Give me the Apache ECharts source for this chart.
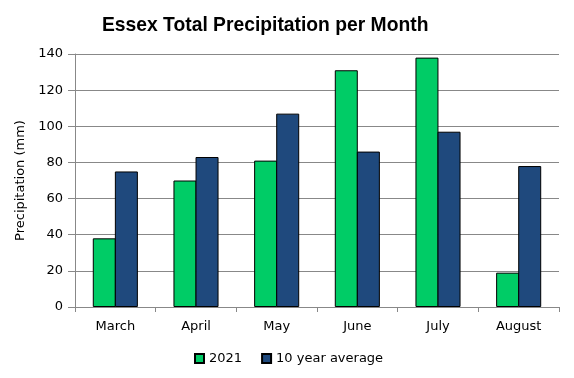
<!DOCTYPE html>
<html><head><meta charset="utf-8">
<script src="https://cdn.jsdelivr.net/npm/echarts@6/dist/echarts.min.js"></script>
<style>html,body{margin:0;padding:0;background:#fff}#c{width:574px;height:378px}</style>
</head><body><div id="c"></div>
<script>
const categories = ["March","April","May","June","July","August"];
const series2021 = [38, 70, 81, 131, 138, 19];
const seriesAvg = [75, 83, 107, 86, 97, 78];
const yTicks = {min: 0, max: 140, interval: 20};

const chart = echarts.init(document.getElementById('c'));
const font = 'DejaVu Sans';
chart.setOption({
  animation: false,
  title: {
    text: 'Essex Total Precipitation per Month',
    left: 97, top: 11,
    textStyle: {fontFamily: 'Liberation Sans', fontSize: 19.3, fontWeight: 'bold', color: '#000'}
  },
  legend: {
    top: 347, left: 189,
    itemWidth: 9, itemHeight: 9, itemGap: 19,
    textStyle: {fontFamily: font, fontSize: 13, color: '#000'},
    data: [{name: '2021', icon: 'rect'}, {name: '10 year average', icon: 'rect'}]
  },
  grid: {left: 75, right: 15, top: 54, bottom: 71},
  xAxis: {
    type: 'category', data: categories,
    axisLine: {lineStyle: {color: '#888'}},
    axisTick: {show: true, alignWithLabel: false, length: 5, lineStyle: {color: '#888'}},
    axisLabel: {fontFamily: font, fontSize: 13, color: '#000', margin: 13}
  },
  yAxis: {
    type: 'value', min: yTicks.min, max: yTicks.max, interval: yTicks.interval,
    name: 'Precipitation (mm)', nameLocation: 'middle', nameGap: 47,
    nameTextStyle: {fontFamily: font, fontSize: 13, color: '#000'},
    axisLine: {show: true, lineStyle: {color: '#888'}},
    axisTick: {show: true, length: 7, lineStyle: {color: '#888'}},
    axisLabel: {fontFamily: font, fontSize: 13, color: '#000', margin: 12},
    splitLine: {lineStyle: {color: '#888'}}
  },
  series: [
    {name: '2021', type: 'bar', data: series2021, barWidth: 23, barGap: '-4%',
     itemStyle: {color: '#00cc66', borderColor: '#000', borderWidth: 1}},
    {name: '10 year average', type: 'bar', data: seriesAvg, barWidth: 23, barGap: '-4%',
     itemStyle: {color: '#1f497d', borderColor: '#000', borderWidth: 1}}
  ]
});
</script></body></html>
